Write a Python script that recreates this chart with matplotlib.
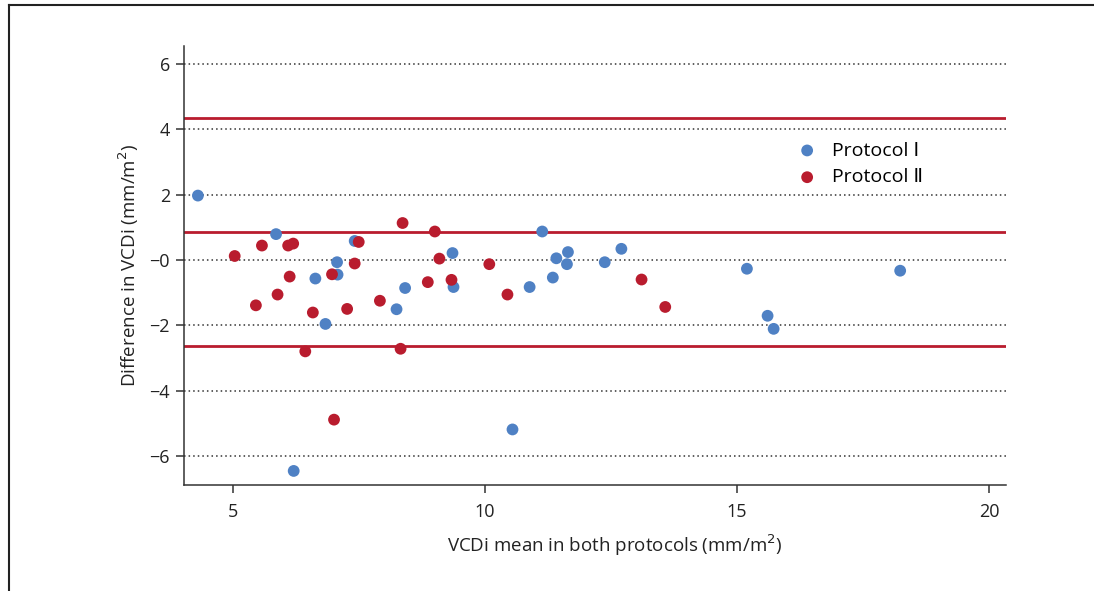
import numpy as np
import matplotlib.pyplot as plt
from matplotlib.lines import Line2D

plt.rcParams['font.family'] = ['Open Sans', 'DejaVu Sans']

# Bland-Altman data
p1_mean = [4.31, 5.86, 6.21, 6.64, 6.84, 7.07, 7.08, 7.42, 8.25, 8.42, 9.36, 9.38,
           10.55, 10.89, 11.14, 11.35, 11.42, 11.63, 11.65, 12.38, 12.71, 15.20,
           15.61, 15.73, 18.24]
p1_diff = [1.97, 0.79, -6.46, -0.57, -1.96, -0.07, -0.45, 0.58, -1.51, -0.86, 0.21, -0.83,
           -5.19, -0.83, 0.87, -0.54, 0.05, -0.13, 0.24, -0.07, 0.34, -0.27,
           -1.71, -2.11, -0.33]
p2_mean = [5.04, 5.46, 5.58, 5.89, 6.10, 6.13, 6.20, 6.44, 6.59, 6.97, 7.01, 7.27,
           7.42, 7.50, 7.92, 8.33, 8.37, 8.87, 9.01, 9.10, 9.34, 10.09, 10.45,
           13.11, 13.58]
p2_diff = [0.12, -1.39, 0.44, -1.06, 0.44, -0.51, 0.50, -2.80, -1.61, -0.44, -4.89, -1.50,
           -0.11, 0.55, -1.25, -2.72, 1.13, -0.68, 0.87, 0.04, -0.61, -0.13, -1.06,
           -0.60, -1.44]
limits = [4.35, 0.85, -2.65]  # upper LoA, mean bias, lower LoA

yticks = [-6, -4, -2, 0, 2, 4, 6]
ytick_labels = ['\u22126', '\u22124', '\u22122', '\u22120', '2', '4', '6']
xticks = [5, 10, 15, 20]

blue = '#4f81c4'
red = '#b91c2e'
dark = '#333333'

fig = plt.figure(figsize=(10.94, 5.91), dpi=100)
ax = fig.add_axes([0.168, 0.1794, 0.7516, 0.7428])

for yv in yticks:
    ax.axhline(yv, color=dark, lw=1.1, ls=(0, (1, 2)), zorder=1)
for lv in limits:
    ax.axhline(lv, color=red, lw=2, zorder=2)

ax.scatter(p1_mean, p1_diff, s=72, color=blue, edgecolors='none', zorder=3, label='Protocol \u2160')
ax.scatter(p2_mean, p2_diff, s=72, color=red, edgecolors='none', zorder=3, label='Protocol \u2161')

ax.set_xlim(4.03, 20.34)
ax.set_ylim(-6.89, 6.55)
ax.set_xticks(xticks)
ax.set_yticks(yticks)
ax.set_yticklabels(ytick_labels)

for s in ['top', 'right']:
    ax.spines[s].set_visible(False)
for s in ['left', 'bottom']:
    ax.spines[s].set_color(dark)
    ax.spines[s].set_linewidth(1.1)
ax.tick_params(axis='both', colors=dark, labelcolor='#222222', labelsize=13,
               length=6, width=1.1, direction='out')
ax.tick_params(axis='y', pad=4)
ax.tick_params(axis='x', pad=7)

ax.set_xlabel('VCDi mean in both protocols (mm/m$^2$)', fontsize=13.5, color='#222222',
              labelpad=8, x=0.524)
ax.set_ylabel('Difference in VCDi (mm/m$^2$)', fontsize=13.5, color='#222222', labelpad=6)

ax.legend(loc='upper left', bbox_to_anchor=(0.725, 0.80), frameon=False, fontsize=14,
          handletextpad=0.3, labelspacing=0.45, borderaxespad=0)

# outer frame (top and left only)
fig.add_artist(Line2D([0.008, 1.0], [0.9915, 0.9915], color='#222222', lw=1.5))
fig.add_artist(Line2D([0.008, 0.008], [0.0, 0.9915], color='#222222', lw=1.5))

fig.savefig('out.png', dpi=100)
